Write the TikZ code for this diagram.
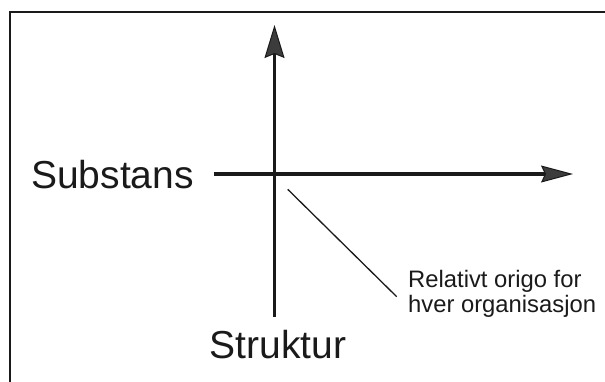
\documentclass[tikz,border=0pt]{standalone}
\usepackage{fontspec}
\setmainfont{Liberation Sans}
\usetikzlibrary{arrows.meta}
\definecolor{ink}{HTML}{1A1A1A}
\definecolor{headfill}{HTML}{3C3C3C}
\tikzset{
  framestyle/.style={line width=2pt, draw=ink},
  axisstyle/.style={line width=3.8pt, draw=ink},
  vhead/.style={-{Stealth[length=33pt, width=20pt, inset=4pt, fill=headfill, line width=1pt]}},
  hhead/.style={-{Stealth[length=32pt, width=17pt, inset=4pt, fill=headfill, line width=1pt]}},
  bigtext/.style={font=\fontsize{39}{39}\selectfont, inner sep=0pt, anchor=base west, text=ink},
  smalltext/.style={font=\fontsize{23.8}{25.6}\selectfont, inner sep=0pt, anchor=base west, text=ink, align=left},
  leader/.style={line width=1.3pt, draw=ink}
}
\begin{document}
\begin{tikzpicture}[x=1pt, y=-1pt]
  \fill[white] (0,0) rectangle (605,381);
  \useasboundingbox (0,0) rectangle (605,381);
  % frame
  \coordinate (fr) at (607,11.7);
  \coordinate (fc) at (10,11.7);
  \coordinate (fb) at (10,383);
  \draw[framestyle] (fr) -- (fc) -- (fb);
  % axes
  \coordinate (vbot) at (274.5,316.7);
  \coordinate (vtop) at (274.5,25);
  \coordinate (hleft) at (213.5,174);
  \coordinate (hright) at (573,174);
  \draw[axisstyle, vhead] (vbot) -- (vtop);
  \draw[axisstyle, hhead] (hleft) -- (hright);
  % labels
  \node[bigtext] (sub) at (31,188.3) {Substans};
  \node[bigtext] (str) at (209.5,358) {Struktur};
  \node[smalltext] (rel) at (408,312.7) {Relativt origo for\\hver organisasjon};
  % leader line
  \coordinate (ls) at (287.7,189.3);
  \coordinate (le) at (396.7,296.7);
  \draw[leader] (ls) -- (le);
\end{tikzpicture}
\end{document}
